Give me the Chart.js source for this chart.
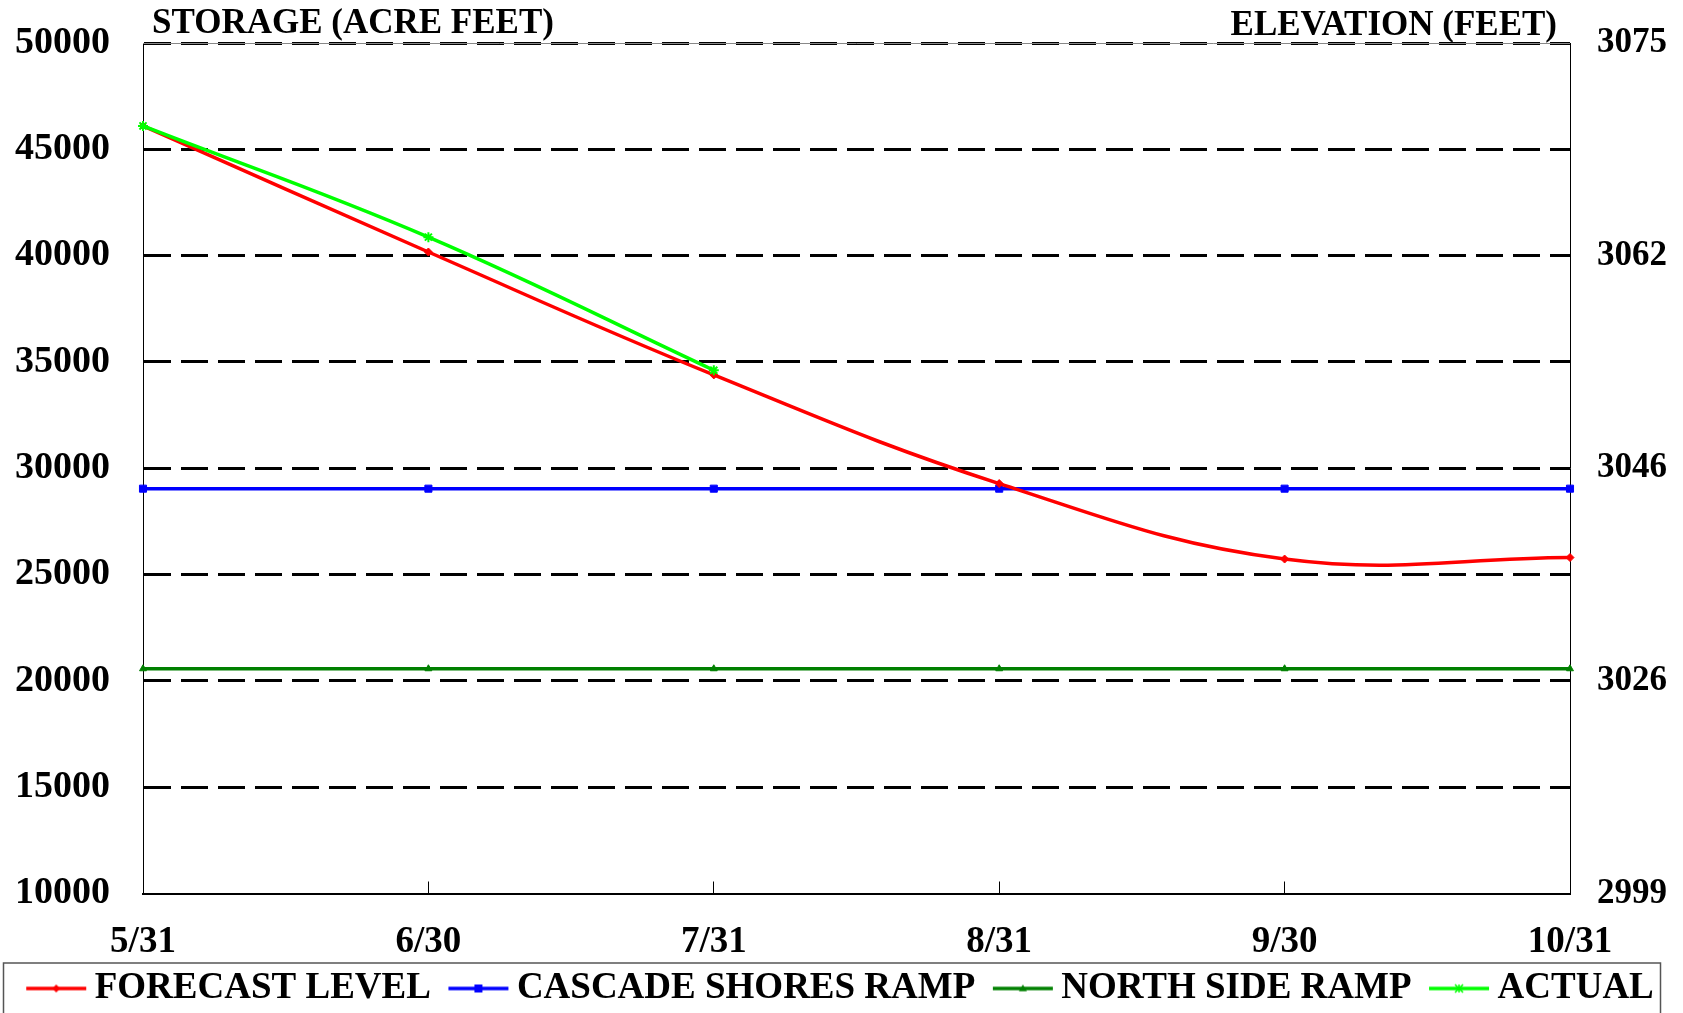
<!DOCTYPE html>
<html>
<head>
<meta charset="utf-8">
<script src="https://cdn.jsdelivr.net/npm/chart.js@4.4.1/dist/chart.umd.min.js"></script>
<style>
  html, body { margin: 0; padding: 0; background: #fff; }
  #wrap { width: 1683px; height: 1013px; position: relative; }
</style>
</head>
<body>
<div id="wrap"><canvas id="lakeChart"></canvas></div>
<script>
// ===== storage / elevation chart =====
const FONT = "'Liberation Serif', 'Times New Roman', serif";

// ---- data ----
const months = ["5/31", "6/30", "7/31", "8/31", "9/30", "10/31"];
const forecastLevel = [46100, 40170, 34390, 29280, 25730, 25800];
const cascadeShoresRamp = [29040, 29040, 29040, 29040, 29040, 29040];
const northSideRamp = [20570, 20570, 20570, 20570, 20570, 20570];
const actualLevel = [46100, 40870, 34610, null, null, null];

// right axis: elevation labels shown at these storage values
const storageTicks = [10000, 20000, 30000, 40000, 50000];
const elevationLabels = ["2999", "3026", "3046", "3062", "3075"];

const leftTitle = "STORAGE (ACRE FEET)";
const rightTitle = "ELEVATION (FEET)";

// ---- legend icons (line + marker) ----
function drawMarker(g, style, x, y, r) {
  g.beginPath();
  if (style === "rectRot") {
    g.moveTo(x, y - r); g.lineTo(x + r, y); g.lineTo(x, y + r); g.lineTo(x - r, y); g.closePath(); g.fill();
  } else if (style === "rect") {
    g.rect(x - r, y - r, r * 2, r * 2); g.fill();
  } else if (style === "triangle") {
    g.moveTo(x, y - r); g.lineTo(x + r, y + r * 0.7); g.lineTo(x - r, y + r * 0.7); g.closePath(); g.fill();
  } else {
    g.lineWidth = 1.5;
    g.moveTo(x - r, y - r); g.lineTo(x + r, y + r);
    g.moveTo(x - r, y + r); g.lineTo(x + r, y - r);
    g.moveTo(x, y - r); g.lineTo(x, y + r);
    g.stroke();
  }
}

function legendIcon(color, style, r) {
  const c = document.createElement("canvas");
  c.width = 84; c.height = 16;
  const g = c.getContext("2d");
  g.strokeStyle = color; g.fillStyle = color; g.lineWidth = 3.5;
  g.beginPath(); g.moveTo(22, 8); g.lineTo(82, 8); g.stroke();
  drawMarker(g, style, 52, 8, r);
  return c;
}

// ---- titles above plot + legend frame ----
const framePlugin = {
  id: "framePlugin",
  afterDraw(chart) {
    const { ctx, chartArea, legend } = chart;
    ctx.save();
    ctx.fillStyle = "#000";
    ctx.font = "bold 35px " + FONT;
    ctx.textBaseline = "alphabetic";
    ctx.textAlign = "left";
    ctx.fillText(leftTitle, chartArea.left + 9, chartArea.top - 10);
    ctx.textAlign = "right";
    ctx.fillText(rightTitle, chartArea.right - 13, chartArea.top - 8);
    // thin plot-area edge along the top
    ctx.strokeStyle = "#888";
    ctx.lineWidth = 1;
    ctx.beginPath();
    ctx.moveTo(chartArea.left, Math.round(chartArea.top) + 0.5);
    ctx.lineTo(chartArea.right, Math.round(chartArea.top) + 0.5);
    ctx.stroke();
    if (legend) {
      ctx.strokeStyle = "#555";
      ctx.lineWidth = 1.5;
      ctx.strokeRect(legend.left + 0.5, legend.top + 0.5, legend.width - 7, legend.height + 10);
    }
    ctx.restore();
  }
};

Chart.defaults.font.family = FONT;
Chart.defaults.color = "#000";

const series = [
  { label: "FORECAST LEVEL", data: forecastLevel, color: "#ff0000", style: "rectRot", r: 4, tension: 0.4, order: 1 },
  { label: "CASCADE SHORES RAMP", data: cascadeShoresRamp, color: "#0000ff", style: "rect", r: 5, tension: 0, order: 2 },
  { label: "NORTH SIDE RAMP", data: northSideRamp, color: "#008000", style: "triangle", r: 4, tension: 0, order: 3 },
  { label: "ACTUAL", data: actualLevel, color: "#00ff00", style: "star", r: 5, tension: 0.4, order: 0 }
];
const icons = series.map(s => legendIcon(s.color, s.style, 4));

new Chart(document.getElementById("lakeChart"), {
  type: "line",
  data: {
    labels: months,
    datasets: series.map(s => ({
      label: s.label,
      data: s.data,
      borderColor: s.color,
      backgroundColor: s.color,
      borderWidth: 3.5,
      tension: s.tension,
      pointStyle: s.style,
      pointRadius: s.r,
      pointBorderWidth: s.style === "star" ? 2 : 1,
      spanGaps: false,
      order: s.order
    }))
  },
  options: {
    responsive: true,
    maintainAspectRatio: false,
    animation: false,
    layout: { padding: { left: 3, right: 16, top: 43, bottom: -4 } },
    plugins: {
      tooltip: { enabled: false },
      legend: {
        position: "bottom",
        labels: {
          usePointStyle: true,
          pointStyleWidth: 60,
          padding: 7.5,
          font: { size: 37, weight: "bold" },
          color: "#000",
          generateLabels(chart) {
            const items = Chart.defaults.plugins.legend.labels.generateLabels(chart);
            items.sort((a, b) => a.datasetIndex - b.datasetIndex);
            items.forEach(it => { it.pointStyle = icons[it.datasetIndex]; });
            return items;
          }
        }
      }
    },
    scales: {
      x: {
        type: "category",
        afterFit(axis) { axis.height = 69; },
        grid: { drawOnChartArea: false, color: "#000", lineWidth: 1, tickLength: -12 },
        border: { color: "#000", width: 2 },
        ticks: { font: { size: 37, weight: "bold" }, color: "#000", padding: 39, maxRotation: 0, autoSkip: false }
      },
      y: {
        min: 10000, max: 50000,
        afterFit(axis) { axis.width = 140; axis.paddingTop = 0; axis.paddingBottom = 0; },
        grid: {
          color: c => (c.tick && c.tick.value === 10000) ? "rgba(0,0,0,0)" : "#000",
          lineWidth: 3,
          drawTicks: false
        },
        border: { color: "#000", width: 1, dash: [27, 10] },
        ticks: { stepSize: 5000, padding: 33, font: { size: 38, weight: "bold" }, color: "#000", callback: v => String(v) }
      },
      y2: {
        position: "right",
        min: 10000, max: 50000,
        afterFit(axis) { axis.width = 97; axis.paddingTop = 0; axis.paddingBottom = 0; },
        grid: { display: false, drawTicks: false },
        border: { color: "#000", width: 1 },
        ticks: {
          stepSize: 10000, padding: 27, font: { size: 35, weight: "bold" }, color: "#000",
          callback: v => { const i = storageTicks.indexOf(v); return i >= 0 ? elevationLabels[i] : ""; }
        }
      }
    }
  },
  plugins: [framePlugin]
});
</script>
</body>
</html>
